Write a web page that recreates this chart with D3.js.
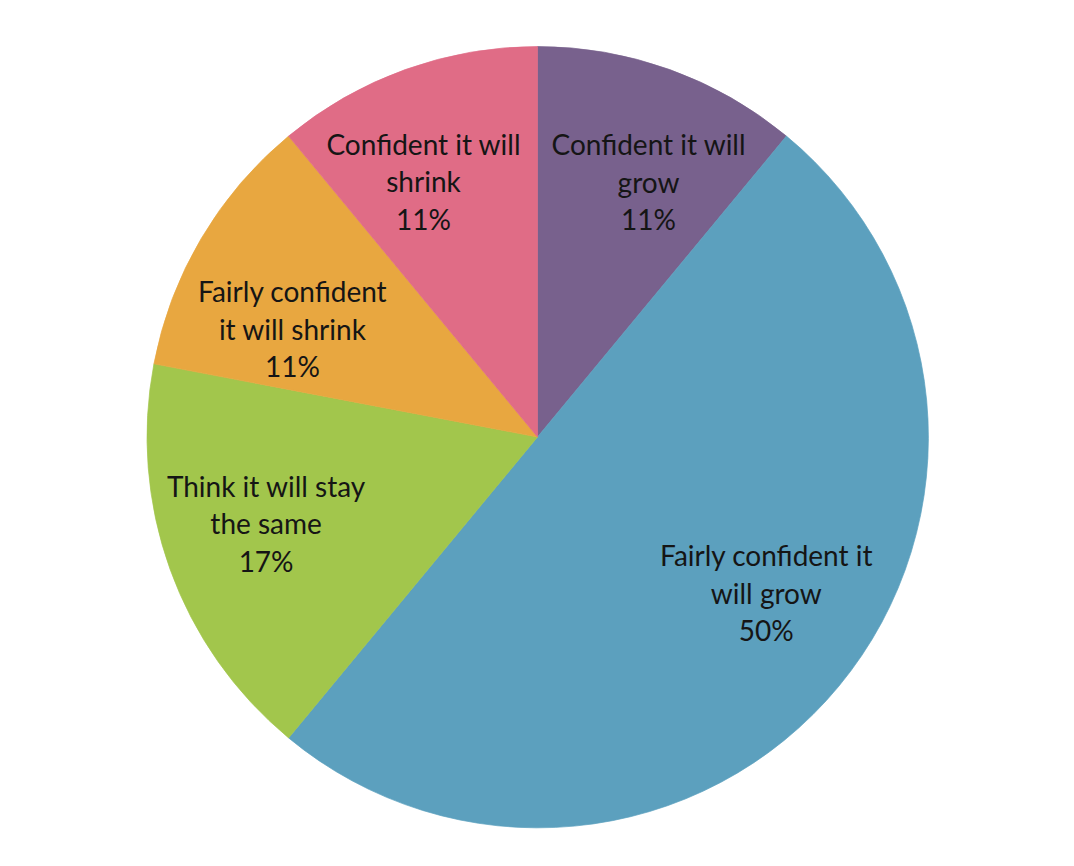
<!DOCTYPE html>
<html>
<head>
<meta charset="utf-8">
<script src="https://cdn.jsdelivr.net/npm/d3@7"></script>
<style>
  body { margin: 0; background: #fff; }
</style>
</head>
<body>
<script>
const categories = ["Confident it will grow", "Fairly confident it will grow", "Think it will stay the same", "Fairly confident it will shrink", "Confident it will shrink"];
const values = [11, 50, 17, 11, 11];
const colors = ["#78618d", "#5ca0be", "#a2c64c", "#e8a740", "#e06c86"];
// label lines as wrapped in the original
const labelLines = [
  ["Confident it will", "grow"],
  ["Fairly confident it", "will grow"],
  ["Think it will stay", "the same"],
  ["Fairly confident", "it will shrink"],
  ["Confident it will", "shrink"]
];
// label placement: fraction of radius, nudge from slice middle (degrees)
const labelRadius = [0.71, 0.71, 0.73, 0.685, 0.715];
const labelNudge = [3.8, -5.2, 2.0, -7.0, -4.3];

const width = 1074, height = 866;
const cx = 537.5, cy = 437, r = 390.5;

const svg = d3.select("body").append("svg")
  .attr("width", width)
  .attr("height", height);

const pie = d3.pie().sort(null).value(d => d.value);
const arcs = pie(categories.map((c, i) => ({name: c, value: values[i], i})));
const arc = d3.arc().innerRadius(0).outerRadius(r);

const g = svg.append("g").attr("transform", `translate(${cx},${cy})`);

// stroke in the fill colour hides the hairline seams between slices
g.selectAll("path")
  .data(arcs)
  .join("path")
  .attr("d", arc)
  .attr("fill", d => colors[d.data.i])
  .attr("stroke", d => colors[d.data.i])
  .attr("stroke-width", 0.7)
  .attr("stroke-linejoin", "round");

const lab = g.selectAll("text")
  .data(arcs)
  .join("text")
  .attr("text-anchor", "middle")
  .attr("font-family", "Lato, 'Open Sans', sans-serif")
  .attr("font-size", 28)
  .attr("fill", "#151515")
  .attr("transform", d => {
    const a = (d.startAngle + d.endAngle) / 2 + labelNudge[d.data.i] * Math.PI / 180;
    const k = labelRadius[d.data.i] * r;
    return `translate(${Math.sin(a) * k},${-Math.cos(a) * k})`;
  });

lab.each(function(d) {
  const lines = labelLines[d.data.i].concat([d.data.value + "%"]);
  const t = d3.select(this);
  lines.forEach((s, j) => {
    t.append("tspan")
      .attr("x", 0)
      .attr("y", (j - 1) * 37.5 + 10)
      .text(s);
  });
});
</script>
</body>
</html>
